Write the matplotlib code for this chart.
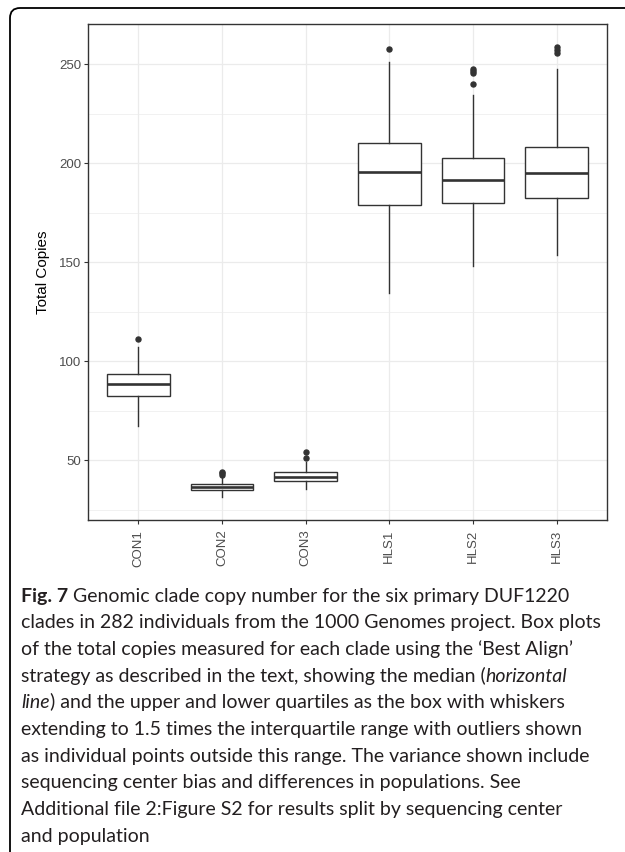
import matplotlib
matplotlib.use("Agg")
import matplotlib.pyplot as plt
from matplotlib.patches import FancyBboxPatch
from matplotlib.transforms import IdentityTransform
from matplotlib.ticker import MultipleLocator

# summary statistics
categories = ["CON1", "CON2", "CON3", "HLS1", "HLS2", "HLS3"]
q1 = [82.3, 34.8, 39.4, 178.9, 180.1, 182.2]
med = [88.2, 36.2, 41.6, 195.6, 191.6, 194.8]
q3 = [93.6, 37.7, 43.8, 210.1, 202.7, 208.4]
whislo = [67.2, 31.3, 35.3, 134.6, 147.8, 153.5]
whishi = [107.2, 40.9, 48.8, 251.0, 234.5, 247.5]
fliers = [[111.0], [42.5, 43.2, 43.9], [50.8, 53.9], [257.6],
          [240.2, 245.6, 246.6, 247.6], [255.9, 257.0, 258.6]]

caption = [
    [("Fig. 7", "normal", "bold"), (" Genomic clade copy number for the six primary DUF1220", "normal", "normal")],
    [("clades in 282 individuals from the 1000 Genomes project. Box plots", "normal", "normal")],
    [("of the total copies measured for each clade using the \u2018Best Align\u2019", "normal", "normal")],
    [("strategy as described in the text, showing the median (", "normal", "normal"), ("horizontal", "italic", "normal")],
    [("line", "italic", "normal"), (") and the upper and lower quartiles as the box with whiskers", "normal", "normal")],
    [("extending to 1.5 times the interquartile range with outliers shown", "normal", "normal")],
    [("as individual points outside this range. The variance shown include", "normal", "normal")],
    [("sequencing center bias and differences in populations. See", "normal", "normal")],
    [("Additional file 2:Figure S2 for results split by sequencing center", "normal", "normal")],
    [("and population", "normal", "normal")],
]

W, H = 625, 852
fig = plt.figure(figsize=(W / 100, H / 100), dpi=100)
ax = fig.add_axes([88 / W, 1 - 520 / H, (607 - 88) / W, (520 - 24) / H])

stats = []
for i, name in enumerate(categories):
    stats.append(dict(label=name, q1=q1[i], med=med[i], q3=q3[i],
                      whislo=whislo[i], whishi=whishi[i], fliers=fliers[i]))

dark = "#333333"
ax.bxp(stats, positions=range(1, len(categories) + 1), widths=0.75,
       patch_artist=True, showcaps=False,
       boxprops=dict(facecolor="white", edgecolor=dark, linewidth=1.0),
       medianprops=dict(color=dark, linewidth=1.9),
       whiskerprops=dict(color=dark, linewidth=1.0),
       flierprops=dict(marker="o", markerfacecolor=dark, markeredgecolor=dark,
                       markersize=3.6))

ax.set_xlim(0.4, 6.6)
ax.set_ylim(19.7, 270.3)
ax.yaxis.set_major_locator(MultipleLocator(50))
ax.yaxis.set_minor_locator(MultipleLocator(25))
ax.grid(True, which="major", color="#EBEBEB", linewidth=0.9)
ax.grid(True, which="minor", axis="y", color="#EBEBEB", linewidth=0.5)
ax.set_axisbelow(True)
for s in ax.spines.values():
    s.set_color(dark)
    s.set_linewidth(1.0)

ax.tick_params(axis="both", which="major", length=3, width=0.8, color=dark,
               labelcolor="#4D4D4D", labelsize=9.5)
ax.tick_params(axis="y", which="minor", length=0)
ax.tick_params(axis="y", pad=2)
ax.tick_params(axis="x", pad=4)
ax.set_xticks(range(1, len(categories) + 1))
ax.set_xticklabels(categories, rotation=90, family="Liberation Sans")
for t in ax.get_yticklabels():
    t.set_family("Liberation Sans")
ax.set_ylabel("Total Copies", fontsize=11, family="Liberation Sans", labelpad=6)

# frame around figure + caption
frame = FancyBboxPatch((10, -60), 700, H - 8 + 60, boxstyle="round,pad=0,rounding_size=10",
                       transform=IdentityTransform(), facecolor="none",
                       edgecolor="black", linewidth=1.3)
fig.add_artist(frame)

renderer = fig.canvas.get_renderer()
for i, runs in enumerate(caption):
    x = 21
    y = H - (601.7 + 26.67 * i)
    for text, style, weight in runs:
        t = fig.text(x, y, text, transform=IdentityTransform(), family="Lato",
                     fontsize=14, style=style, weight=weight, color="#231F20",
                     ha="left", va="baseline")
        x += t.get_window_extent(renderer).width

fig.savefig("out.png", dpi=100)
